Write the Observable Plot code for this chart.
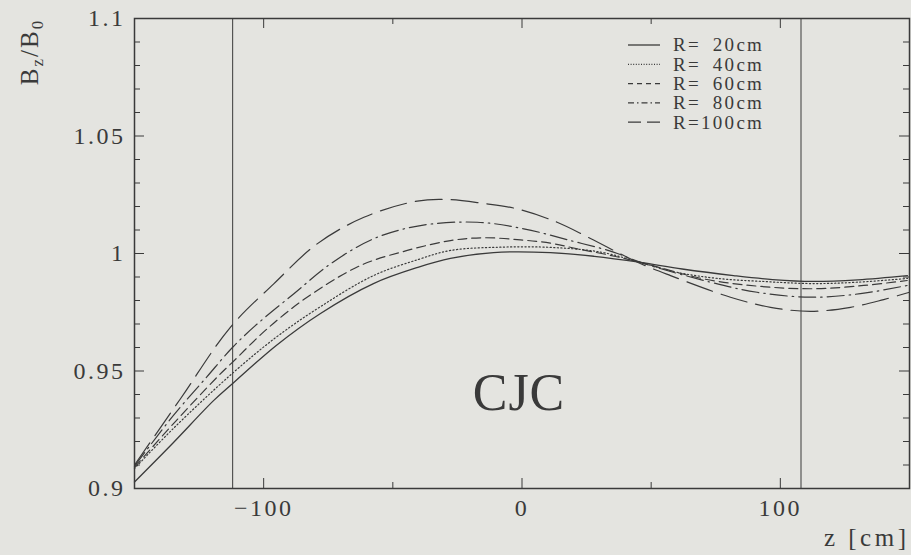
<!DOCTYPE html>
<html><head><meta charset="utf-8">
<script src="https://cdn.jsdelivr.net/npm/d3@7"></script>
<script src="https://cdn.jsdelivr.net/npm/@observablehq/plot@0.6"></script>
</head><body style="margin:0;background:#e4e4e0">
<div id="chart"></div>
<script>
// z [cm], Bz/B0
const R20 = [[-150,0.9028],[-135,0.9195],[-119.4,0.9374],[-112,0.9447],[-95,0.961],[-78,0.9745],[-57.5,0.9872],[-40,0.9942],[-27.7,0.9979],[-11,1.0004],[11,1.0004],[28,0.9988],[45.9,0.9962],[62,0.9934],[81.9,0.9906],[97,0.9889],[112.9,0.9881],[130,0.9888],[149.2,0.9906]];
const R40 = [[-150,0.9085],[-135,0.9255],[-112,0.9491],[-95,0.9645],[-78,0.9774],[-57.5,0.9906],[-40,0.9975],[-27.7,1.0013],[-8.3,1.0027],[11,1.0026],[30.4,1.0006],[45.9,0.9962],[60,0.992],[75.7,0.9894],[95,0.988],[112.9,0.9872],[130,0.9878],[149.2,0.9894]];
const R60 = [[-150,0.909],[-135,0.9275],[-118,0.9474],[-112,0.9538],[-98.6,0.968],[-83.2,0.9814],[-62.5,0.9949],[-44.4,1.0013],[-27.7,1.0055],[-15,1.0067],[-0.6,1.0058],[11,1.0044],[21.4,1.002],[33,0.9995],[45.9,0.9962],[70.3,0.9892],[92.3,0.986],[113,0.985],[132.3,0.9864],[149.1,0.9885]];
const R80 = [[-150,0.9095],[-135,0.931],[-122,0.9475],[-112,0.9601],[-102.5,0.970],[-88.3,0.9829],[-74.1,0.9956],[-57.4,1.0063],[-39.3,1.0119],[-17.3,1.0133],[0.7,1.0105],[18.8,1.0055],[35.4,1.0006],[45.9,0.9962],[72.9,0.9878],[91,0.9835],[111.7,0.9814],[131,0.9829],[149.1,0.9864]];
const R100 = [[-150,0.910],[-132.2,0.9382],[-112.9,0.9686],[-96.1,0.9871],[-79.3,1.0041],[-61.2,1.0154],[-40.6,1.0223],[-27.7,1.0229],[-14.9,1.0213],[-1.9,1.019],[13.6,1.0133],[26.5,1.0064],[44.7,0.9963],[57.5,0.9906],[80.7,0.9814],[96.2,0.9771],[111.7,0.9754],[127.2,0.9771],[140,0.9804],[150,0.9835]];

const seriesNames = ["R=\u200720cm","R=\u200740cm","R=\u200760cm","R=\u200780cm","R=100cm"];
const xMajorTicks = [-100, 0, 100];
const xMinorTicks = [-50, 50];
const yMajorTicks = [0.9, 0.95, 1, 1.05, 1.1];
const yMinorTicks = [0.91,0.92,0.93,0.94,0.96,0.97,0.98,0.99,1.01,1.02,1.03,1.04,1.06,1.07,1.08,1.09];
const cjcEdges = [-112, 108];
const yTickLabels = ["0.9","0.95","1","1.05","1.1"];
const xTickLabels = ["\u2212100","0","100"];

const ink = "#3a3a3a";
const FONT = "Liberation Serif";
const W = 911, H = 555, mL = 134, mR = 2, mT = 18, mB = 67;
const pw = W - mL - mR, ph = H - mT - mB;
const dashes = [null, "1.2,2.4", "9,5", "17,5,1.5,5", "27,9"];
const widths = [1.3, 1.2, 1.2, 1.2, 1.2];
const series = [R20, R40, R60, R80, R100];

const lineMarks = series.map((s,i) => Plot.line(s, {
  x: d => d[0], y: d => d[1], curve: "catmull-rom",
  stroke: ink, strokeWidth: widths[i], strokeDasharray: dashes[i] ?? undefined
}));

const svgEl = Plot.plot({
  width: W, height: H,
  marginLeft: mL, marginRight: mR, marginTop: mT, marginBottom: mB,
  style: {background: "#e4e4e0", fontFamily: FONT, fontSize: "23px"},
  x: {domain: [-150, 150], axis: null},
  y: {domain: [0.9, 1.1], axis: null},
  marks: [
    Plot.ruleX(cjcEdges, {stroke: ink, strokeWidth: 1}),
    Plot.tickX(xMajorTicks, {x: d => d, insetTop: ph - 10, stroke: ink, strokeWidth: 1}),
    Plot.tickX(xMajorTicks, {x: d => d, insetBottom: ph - 10, stroke: ink, strokeWidth: 1}),
    Plot.tickX(xMinorTicks, {x: d => d, insetTop: ph - 6, stroke: ink, strokeWidth: 1}),
    Plot.tickX(xMinorTicks, {x: d => d, insetBottom: ph - 6, stroke: ink, strokeWidth: 1}),
    Plot.tickY(yMajorTicks, {y: d => d, insetRight: pw - 10, stroke: ink, strokeWidth: 1}),
    Plot.tickY(yMajorTicks, {y: d => d, insetLeft: pw - 10, stroke: ink, strokeWidth: 1}),
    Plot.tickY(yMinorTicks, {y: d => d, insetRight: pw - 6, stroke: ink, strokeWidth: 1}),
    Plot.tickY(yMinorTicks, {y: d => d, insetLeft: pw - 6, stroke: ink, strokeWidth: 1}),
    ...lineMarks,
    Plot.frame({stroke: ink, strokeWidth: 1.5}),
    Plot.axisX({ticks: xMajorTicks, tickSize: 0, tickPadding: 10, fill: ink, fontSize: 24, fontFamily: FONT,
      tickFormat: d => xTickLabels[xMajorTicks.indexOf(d)]}),
    Plot.axisY({ticks: yMajorTicks, tickSize: 0, tickPadding: 9, fill: ink, fontSize: 24, fontFamily: FONT,
      tickFormat: d => yTickLabels[yMajorTicks.indexOf(d)]}),
    Plot.text(["CJC"], {x: () => 0, frameAnchor: "bottom", dy: -79, dx: -3, fontSize: 52, fontFamily: FONT, fill: ink}),
    Plot.text(["z [cm]"], {frameAnchor: "bottom-right", textAnchor: "end", dy: 57, dx: 0, fontSize: 25, fontFamily: FONT, fill: ink})
  ]
});
document.getElementById("chart").appendChild(svgEl);

const svg = d3.select(svgEl);
svg.selectAll("text").filter(function(){ return this.textContent !== "CJC"; }).style("letter-spacing", "2.5px");
svg.selectAll("text").filter(function(){ return this.textContent === "CJC"; }).style("letter-spacing", "1px");
svg.selectAll("text").filter(function(){ return this.textContent === "z [cm]"; }).style("letter-spacing", "3.5px");

// y-axis label B_z/B_0
const yl = svg.append("text")
  .attr("transform", "translate(38,52) rotate(-90)")
  .attr("text-anchor", "middle")
  .attr("fill", ink)
  .style("font-family", FONT)
  .style("letter-spacing", "2px")
  .style("font-size", "25px");
yl.append("tspan").text("B");
yl.append("tspan").attr("dy", 5).style("font-size", "17px").text("z");
yl.append("tspan").attr("dy", -5).text("/B");
yl.append("tspan").attr("dy", 5).style("font-size", "17px").text("0");

// legend
const legDash = [null, "1,1.6", "5,4", "6,3,1.5,3", "13,6"];
const leg = svg.append("g").attr("class", "legend");
seriesNames.forEach((name, i) => {
  const y = 45 + i * 19.3;
  const ln = leg.append("line").attr("x1", 628).attr("x2", 660).attr("y1", y).attr("y2", y)
    .attr("stroke", ink).attr("stroke-width", widths[i]);
  if (legDash[i]) ln.attr("stroke-dasharray", legDash[i]);
  leg.append("text").attr("x", 673).attr("y", y).attr("dy", "0.34em").attr("text-anchor", "start")
    .attr("fill", ink).style("font-family", FONT).style("font-size", "19px")
    .style("letter-spacing", "2.3px").text(name);
});
</script></body></html>
